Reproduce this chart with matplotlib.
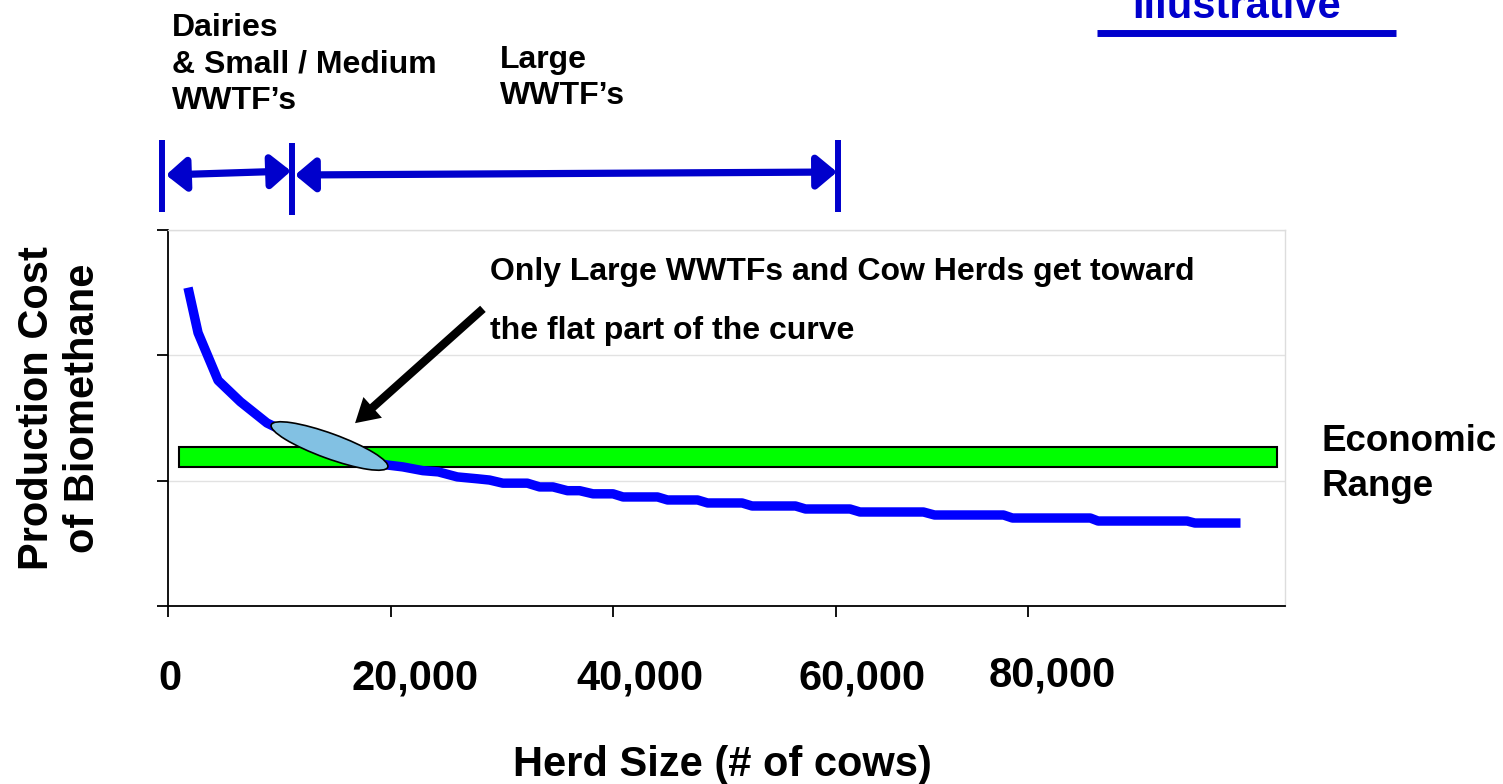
import matplotlib
matplotlib.use('Agg')
import matplotlib.pyplot as plt
from matplotlib.patches import Ellipse, FancyArrowPatch
from matplotlib.lines import Line2D
from matplotlib.transforms import Affine2D, blended_transform_factory

W, H = 1503, 784

# ---- data ----
herd_size = [1800, 2700, 4500, 6500, 8900, 11900, 15500, 18200, 19700, 21100,
             22900, 24300, 26000, 27800, 28900, 30100, 32300, 33400, 34600, 35900,
             37000, 38200, 40000, 40900, 44000, 44900, 47600, 48500, 51600, 52500,
             56400, 57300, 61300, 62200, 67900, 68900, 75100, 75900, 82900, 83600,
             91600, 92300, 96400]
prod_cost = [2.54, 2.18, 1.80, 1.63, 1.46, 1.33, 1.21, 1.15, 1.125, 1.11,
             1.08, 1.07, 1.03, 1.015, 1.005, 0.98, 0.98, 0.95, 0.95, 0.92,
             0.92, 0.895, 0.895, 0.87, 0.87, 0.846, 0.846, 0.822, 0.822, 0.798,
             0.798, 0.774, 0.774, 0.75, 0.75, 0.726, 0.726, 0.702, 0.702, 0.678,
             0.678, 0.662, 0.662]
econ_range = (1.109, 1.269)
econ_span = (1000, 99700)
xtick_pos = [0, 20000, 40000, 60000, 77300]
xtick_labels = ['0', '20,000', '40,000', '60,000', '80,000']
xlabel_pos = [200, 22200, 42400, 62400, 79500]
ytick_pos = [0, 1, 2, 3]

plt.rcParams['font.family'] = ['Liberation Sans', 'DejaVu Sans']
plt.rcParams['font.weight'] = 'bold'

fig = plt.figure(figsize=(W / 100, H / 100), dpi=100)
ax = fig.add_axes([168 / W, (H - 606) / H, (1285 - 168) / W, (606 - 230) / H])
P = Affine2D().scale(1 / W, -1 / H).translate(0, 1) + fig.transFigure

ax.set_xlim(0, 100400)
ax.set_ylim(0, 3)
ax.set_yticks(ytick_pos)
ax.set_yticklabels([])
ax.set_xticks(xtick_pos)
ax.set_xticklabels([])
ax.tick_params(axis='both', direction='out', length=8, width=1.3, color='black')
for s in ['left', 'bottom']:
    ax.spines[s].set_color('black')
    ax.spines[s].set_linewidth(1.3)
for s in ['right', 'top']:
    ax.spines[s].set_color('#dddddd')
    ax.spines[s].set_linewidth(1.0)
ax.yaxis.grid(True, color='#e2e2e2', linewidth=1.0)
ax.set_axisbelow(True)

# economic range bar
ax.barh(y=(econ_range[0] + econ_range[1]) / 2, width=econ_span[1] - econ_span[0],
        height=econ_range[1] - econ_range[0], left=econ_span[0],
        color='#00ff00', edgecolor='black', linewidth=1.5, zorder=2)

# cost curve
ax.plot(herd_size, prod_cost, color='#0000ff', linewidth=6.8, zorder=3,
        solid_capstyle='butt')

# x tick labels
bt = blended_transform_factory(ax.transData, P)
for xp, lab in zip(xlabel_pos, xtick_labels):
    ax.text(xp, 679 if lab != '80,000' else 676, lab, transform=bt, ha='center',
            va='center', fontsize=30, fontweight='bold', clip_on=False)

# highlight ellipse
fig.add_artist(Ellipse((329.5, 446), width=124, height=25, angle=20, transform=P,
                       facecolor='#82c1e3', edgecolor='black', linewidth=1.2, zorder=5))

# pointer arrow
fig.add_artist(FancyArrowPatch((485, 307), (353, 425), transform=P,
                               arrowstyle='simple,head_length=0.85,head_width=1.0,tail_width=0.3',
                               mutation_scale=20, color='black', linewidth=0, zorder=6))

fig.text(490, 272, 'Only Large WWTFs and Cow Herds get toward', transform=P,
         ha='left', va='center', fontsize=23, fontweight='bold')
fig.text(490, 331, 'the flat part of the curve', transform=P,
         ha='left', va='center', fontsize=23, fontweight='bold')

# segment brackets
blue = '#0000cc'
for xb, y0, y1 in [(162, 140, 212), (292, 143, 215), (838, 140, 212)]:
    fig.add_artist(Line2D([xb, xb], [y0, y1], transform=P, color=blue,
                          linewidth=4.3, solid_capstyle='butt'))
for (xa, ya), (xb, yb) in [((166, 175), (291, 171)), ((295, 175), (837, 172))]:
    fig.add_artist(FancyArrowPatch((xa, ya), (xb, yb), transform=P,
                                   arrowstyle='<|-|>,head_length=0.6,head_width=0.5',
                                   mutation_scale=20, color=blue, linewidth=5.2,
                                   shrinkA=0, shrinkB=0))

fig.text(172, 64.5, 'Dairies\n& Small / Medium\nWWTF\u2019s', transform=P, ha='left',
         va='center', fontsize=23, fontweight='bold', linespacing=1.3)
fig.text(500, 78, 'Large\nWWTF\u2019s', transform=P, ha='left',
         va='center', fontsize=23, fontweight='bold', linespacing=1.3)

# illustrative tag
fig.text(1237, 18, 'Illustrative', transform=P, ha='center', va='baseline',
         fontsize=30, fontweight='bold', color=blue)
fig.add_artist(Line2D([1097, 1396], [33.5, 33.5], transform=P, color=blue,
                      linewidth=5, solid_capstyle='butt'))

fig.text(1322, 464, 'Economic\nRange', transform=P, ha='left', va='center',
         fontsize=26.5, fontweight='bold', linespacing=1.38)

fig.text(60, 408, 'Production Cost\nof Biomethane', transform=P, ha='center',
         va='center', rotation=90, fontsize=30, fontweight='bold', linespacing=1.22)
fig.text(722, 765, 'Herd Size (# of cows)', transform=P, ha='center', va='center',
         fontsize=30, fontweight='bold')

fig.savefig('out.png', dpi=100)
